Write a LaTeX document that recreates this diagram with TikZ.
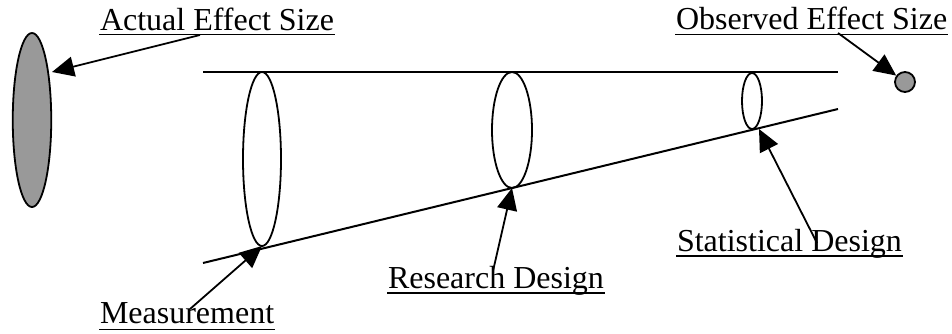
\documentclass[tikz,border=0pt]{standalone}
\usepackage{fontspec}
\setmainfont{Liberation Serif}
\usetikzlibrary{arrows.meta,shapes.geometric}
\begin{document}
\begin{tikzpicture}[x=0.5pt,y=-0.5pt,
  every path/.style={line width=1pt},
  lbl/.style={anchor=base west,inner sep=0pt,font=\fontsize{16}{19}\selectfont},
  arr/.style={-{Triangle[length=11pt,width=10pt]},line width=0.9pt},
  ring/.style={draw,line width=0.9pt},
  ul/.style={line width=0.9pt}]
\useasboundingbox (0,0) rectangle (952,333);
% gray ellipse and dot
\node[ring,fill=black!40,ellipse,inner sep=0pt,minimum width=19.25pt,minimum height=87pt] (act) at (32,120) {};
\node[ring,fill=black!40,circle,inner sep=0pt,minimum size=10pt] (obs) at (905,82) {};
% tube
\coordinate (t1) at (203,72);
\coordinate (t2) at (838,72);
\coordinate (b1) at (203,263);
\coordinate (b2) at (838,109);
\draw (t1) -- (t2);
\draw (b1) -- (b2);
\draw[line width=0.9pt] (262,159) ellipse [x radius=19, y radius=87];
\draw[line width=0.9pt] (512,130) ellipse [x radius=20, y radius=58];
\draw[line width=0.9pt] (752,101) ellipse [x radius=10, y radius=28];
\coordinate (e1) at (262,246);
\coordinate (e2) at (512,188);
\coordinate (e3) at (759,129);
\coordinate (ea) at (52,72);
% labels
\node[lbl] (la) at (99,30) {Actual Effect Size};
\node[lbl] (lo) at (675,29.5) {Observed Effect Size};
\node[lbl] (lm) at (99,323) {Measurement};
\node[lbl] (lr) at (387,288) {Research Design};
\node[lbl] (ls) at (676,251) {Statistical Design};
\foreach \n/\d in {la/2.25,lo/2.5,lm/3.25,lr/2.5,ls/2.5}{
  \draw[ul] ([yshift=-\d pt]\n.base west) -- ([yshift=-\d pt]\n.base east);
}
% arrows
\draw[arr] (200,35) -- (ea);
\draw[arr] (838,33) -- (obs);
\draw[arr] (190,309) -- (e1);
\draw[arr] (493,271) -- (e2);
\draw[arr] (817,243) -- (e3);
\end{tikzpicture}
\end{document}
